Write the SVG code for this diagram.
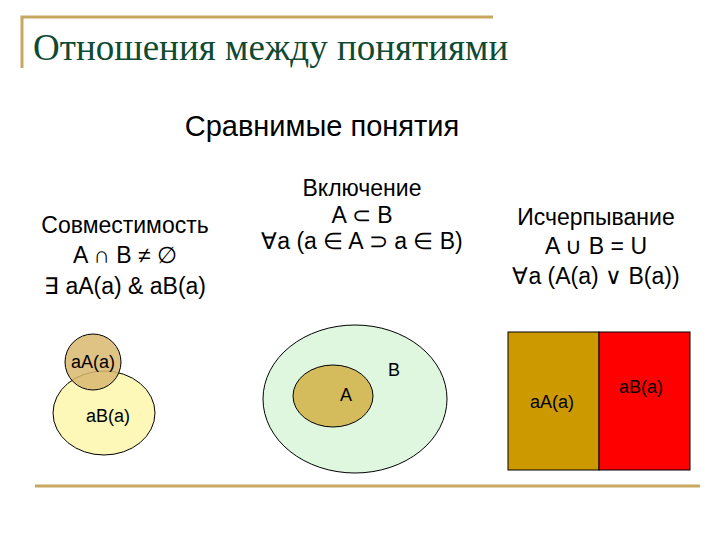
<svg xmlns="http://www.w3.org/2000/svg" width="720" height="540" viewBox="0 0 720 540">
<style>
text{font-family:"Liberation Sans",Arial,sans-serif;font-size:23px;fill:#000;text-anchor:middle}
.s{font-size:18px}
.rule{stroke:#c8a860;stroke-width:3;fill:none}
.o{stroke:#000;stroke-width:1}
</style>
<rect width="720" height="540" fill="#fff"/>
<path class="rule" d="M22 68V17H493" stroke-width="2"/>
<line class="rule" x1="35" y1="486" x2="700" y2="486"/>
<text x="33" y="60" style="font-family:'Liberation Serif',serif;font-size:37px;fill:#0f4a32;text-anchor:start">Отношения между понятиями</text>
<text x="322" y="136" style="font-size:29px">Сравнимые понятия</text>
<g id="compat">
<text x="125" y="233">Совместимость</text>
<text x="125" y="263">A ∩ B ≠ ∅</text>
<text x="125" y="294">∃ aA(a) &amp; aB(a)</text>
<ellipse class="o" cx="104" cy="413" rx="51" ry="42" fill="#fdf7b8"/>
<circle class="o" cx="93" cy="362" r="28" fill="#d8b870" fill-opacity="0.85"/>
<text class="s" x="93" y="368">aA(a)</text>
<text class="s" x="108" y="422">aB(a)</text>
</g>
<g id="incl">
<text x="362" y="196">Включение</text>
<text x="362" y="223">A ⊂ B</text>
<text x="362" y="249">∀a (a ∈ A ⊃ a ∈ B)</text>
<ellipse class="o" cx="355" cy="399" rx="92" ry="74" fill="#dff7df"/>
<ellipse class="o" cx="333" cy="396" rx="40" ry="31" fill="#d4bc5c"/>
<text class="s" x="346" y="401">A</text>
<text class="s" x="394" y="376">B</text>
</g>
<g id="exh">
<text x="596" y="225">Исчерпывание</text>
<text x="596" y="254">A ∪ B = U</text>
<text x="596" y="284">∀a (A(a) ∨ B(a))</text>
<rect class="o" x="508" y="332" width="91" height="138" fill="#cc9900"/>
<rect class="o" x="599" y="332" width="91" height="138" fill="#ff0000"/>
<text class="s" x="552" y="408">aA(a)</text>
<text class="s" x="641" y="393">aB(a)</text>
</g>
</svg>
